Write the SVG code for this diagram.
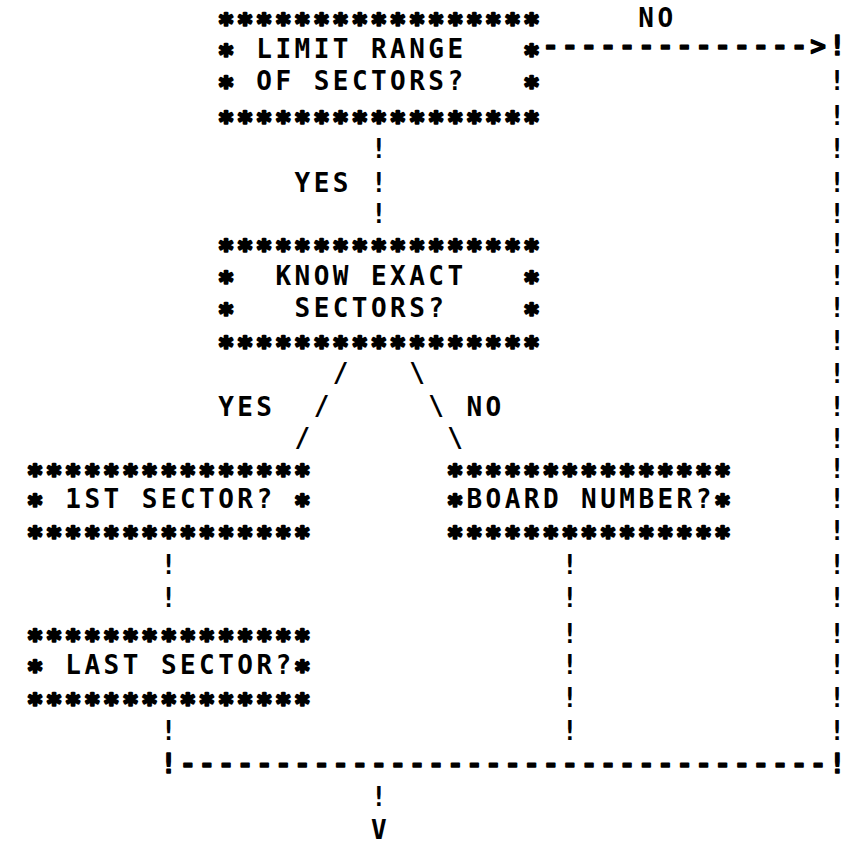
<svg xmlns="http://www.w3.org/2000/svg" width="851" height="843" viewBox="0 0 851 843" xml:space="preserve">
  <style>
    /* fixed-pitch character grid: 19.1px per column */
    text { font-family: "DejaVu Sans Mono", "Liberation Mono", monospace; font-weight: bold; font-size: 26px; letter-spacing: 3.45px; fill: #000; }
    /* border asterisks are printed as heavy blobs */
    .s { stroke: #000; stroke-width: 2.6px; stroke-linejoin: round; }
    /* heavier dashes for the horizontal runs */
    .d { stroke: #000; stroke-width: 1.4px; stroke-linejoin: round; }
  </style>
  <rect width="851" height="843" fill="#fff"/>

  <!-- decision: LIMIT RANGE OF SECTORS? (cols 10-26) -->
  <g id="node-limit-range">
    <text class="s" x="218.17" y="32.5">*****************</text>
    <text class="s" x="218.17" y="63.5">*</text>
    <text x="256.37" y="57.5">LIMIT RANGE</text>
    <text class="s" x="523.77" y="63.5">*</text>
    <text class="s" x="218.17" y="95.5">*</text>
    <text x="256.37" y="89.5">OF SECTORS?</text>
    <text class="s" x="523.77" y="95.5">*</text>
    <text class="s" x="218.17" y="130.5">*****************</text>
  </g>

  <!-- decision: KNOW EXACT SECTORS? (cols 10-26) -->
  <g id="node-know-exact">
    <text class="s" x="218.17" y="258.5">*****************</text>
    <text class="s" x="218.17" y="290.5">*</text>
    <text x="275.47" y="284.5">KNOW EXACT</text>
    <text class="s" x="523.77" y="290.5">*</text>
    <text class="s" x="218.17" y="322.5">*</text>
    <text x="294.57" y="316.5">SECTORS?</text>
    <text class="s" x="523.77" y="322.5">*</text>
    <text class="s" x="218.17" y="355.5">*****************</text>
  </g>

  <!-- prompt: 1ST SECTOR? (cols 0-14) -->
  <g id="node-first-sector">
    <text class="s" x="27.17" y="483.5">***************</text>
    <text class="s" x="27.17" y="513.5">*</text>
    <text x="65.37" y="507.5">1ST SECTOR?</text>
    <text class="s" x="294.57" y="513.5">*</text>
    <text class="s" x="27.17" y="545.5">***************</text>
  </g>

  <!-- prompt: BOARD NUMBER? (cols 22-36) -->
  <g id="node-board-number">
    <text class="s" x="447.37" y="483.5">***************</text>
    <text class="s" x="447.37" y="513.5">*</text>
    <text x="466.47" y="507.5">BOARD NUMBER?</text>
    <text class="s" x="714.77" y="513.5">*</text>
    <text class="s" x="447.37" y="545.5">***************</text>
  </g>

  <!-- prompt: LAST SECTOR? (cols 0-14) -->
  <g id="node-last-sector">
    <text class="s" x="27.17" y="648.5">***************</text>
    <text class="s" x="27.17" y="679.5">*</text>
    <text x="65.37" y="673.5">LAST SECTOR?</text>
    <text class="s" x="294.57" y="679.5">*</text>
    <text class="s" x="27.17" y="712.5">***************</text>
  </g>

  <!-- connectors drawn with ! - / \ > V characters -->
  <g id="connectors">
    <!-- NO branch to the right-hand rail -->
    <text class="d" x="542.87" y="55">-------------->!</text>
    <!-- right-hand rail, col 42 -->
    <text x="829.37" y="90">!</text>
    <text x="829.37" y="125">!</text>
    <text x="829.37" y="158">!</text>
    <text x="829.37" y="192">!</text>
    <text x="829.37" y="223">!</text>
    <text x="829.37" y="253">!</text>
    <text x="829.37" y="285">!</text>
    <text x="829.37" y="317">!</text>
    <text x="829.37" y="350">!</text>
    <text x="829.37" y="383">!</text>
    <text x="829.37" y="416">!</text>
    <text x="829.37" y="448">!</text>
    <text x="829.37" y="478">!</text>
    <text x="829.37" y="508">!</text>
    <text x="829.37" y="540">!</text>
    <text x="829.37" y="574">!</text>
    <text x="829.37" y="607">!</text>
    <text x="829.37" y="643">!</text>
    <text x="829.37" y="674">!</text>
    <text x="829.37" y="707">!</text>
    <text x="829.37" y="740">!</text>
    <!-- YES down from LIMIT RANGE, col 18 -->
    <text x="370.97" y="158">!</text>
    <text x="370.97" y="192">!</text>
    <text x="370.97" y="223">!</text>
    <!-- diagonal branches out of KNOW EXACT -->
    <text x="332.77" y="382">/</text>
    <text x="409.17" y="382">\</text>
    <text x="313.67" y="415">/</text>
    <text x="428.27" y="415">\</text>
    <text x="294.57" y="447">/</text>
    <text x="447.37" y="447">\</text>
    <!-- 1ST SECTOR down to LAST SECTOR, col 7 -->
    <text x="160.87" y="574">!</text>
    <text x="160.87" y="607">!</text>
    <!-- BOARD NUMBER down to the merge line, col 28 -->
    <text x="561.97" y="574">!</text>
    <text x="561.97" y="607">!</text>
    <text x="561.97" y="643">!</text>
    <text x="561.97" y="674">!</text>
    <text x="561.97" y="707">!</text>
    <text x="561.97" y="740">!</text>
    <!-- LAST SECTOR down to the merge line, col 7 -->
    <text x="160.87" y="740">!</text>
    <!-- merge line, row 23 -->
    <text class="d" x="160.87" y="773">!----------------------------------!</text>
    <!-- exit arrow, col 18 -->
    <text x="370.97" y="806">!</text>
    <text x="370.97" y="838.5">V</text>
  </g>

  <!-- branch labels -->
  <g id="labels">
    <text x="638.37" y="26.5">NO</text>
    <text x="294.57" y="191.5">YES</text>
    <text x="218.17" y="415.5">YES</text>
    <text x="466.47" y="415.5">NO</text>
  </g>
</svg>
